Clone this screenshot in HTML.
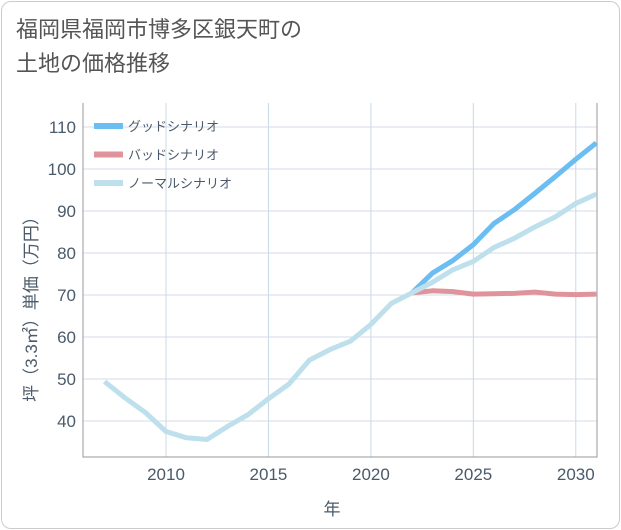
<!DOCTYPE html>
<html><head><meta charset="utf-8"><style>
body{margin:0;background:#fff;font-family:"Liberation Sans","Noto Sans CJK JP",sans-serif;}
#card{position:absolute;left:1px;top:1px;width:617px;height:526px;border:1px solid #ccc;border-radius:10px;background:#fff;}
#title{position:absolute;left:16px;top:13px;font-size:22px;line-height:34px;color:#555;font-family:"Liberation Sans","Noto Sans CJK JP",sans-serif;}
</style></head><body>
<div id="card"></div>
<div id="title">福岡県福岡市博多区銀天町の<br>土地の価格推移</div>
<svg id="chart" width="621" height="530" style="position:absolute;left:0;top:0"></svg>
<script>
const years=[2007,2008,2009,2010,2011,2012,2013,2014,2015,2016,2017,2018,2019,2020,2021,2022,2023,2024,2025,2026,2027,2028,2029,2030,2031];
const normal=[49.4,45.5,42,37.5,36,35.6,38.7,41.5,45.3,48.8,54.5,57,59,63,68,70.5,73,76,78,81.3,83.5,86.2,88.6,91.8,94];
const goodYears=[2022,2023,2024,2025,2026,2027,2028,2029,2030,2031];
const good=[70.5,75.2,78.2,82,87,90.3,94.2,98.2,102.3,106.2];
const bad=[70.5,71,70.8,70.2,70.3,70.4,70.7,70.2,70.1,70.2];
const yTicks=[40,50,60,70,80,90,100,110];
const xTicks=[2010,2015,2020,2025,2030];
const L=83,R=597,T=103,B=457;
const x=v=>166+(v-2010)*20.49;
const y=v=>421-(v-40)*4.2;
const svg=document.getElementById('chart');const NS='http://www.w3.org/2000/svg';
function mk(t,a){const e=document.createElementNS(NS,t);for(const k in a)e.setAttribute(k,a[k]);svg.appendChild(e);return e;}
const bg=mk('rect',{x:L,y:T,width:R-L,height:B-T,fill:'#fff',stroke:'none'});


yTicks.forEach(v=>{const g=mk('line',{x1:L,x2:R,y1:y(v),y2:y(v),stroke:'#d5dde8','stroke-width':1});


const t=mk('text',{x:76,y:y(v)+6,'text-anchor':'end','font-size':17,fill:'#4a5a6a'});t.textContent=v;

});
xTicks.forEach(v=>{const g=mk('line',{x1:x(v),x2:x(v),y1:T,y2:B,stroke:'#c8d8e8','stroke-width':1});


const t=mk('text',{x:x(v),y:480,'text-anchor':'middle','font-size':17,fill:'#4a5a6a'});t.textContent=v;

});
const ax=mk('path',{d:`M${L},${T}V${B}H${R}V${T}`,fill:'none',stroke:'#999','stroke-width':1});


function line(xs,vs,c,n){const p=mk('polyline',{points:xs.map((yr,i)=>x(yr)+','+y(vs[i])).join(' '),fill:'none',stroke:c,'stroke-width':5,'stroke-linejoin':'round'});

}
line(goodYears,bad,'#e0939a','bad-scenario-line');
line(goodYears,good,'#6bbdf2','good-scenario-line');
line(years,normal,'#bde0ec','normal-scenario-line');
const leg=[['グッドシナリオ','#6bbdf2'],['バッドシナリオ','#e0939a'],['ノーマルシナリオ','#bde0ec']];
leg.forEach((l,i)=>{const yy=126+i*28.5;const s=mk('line',{x1:94,x2:123,y1:yy,y2:yy,stroke:l[1],'stroke-width':6});


const t=mk('text',{x:128,y:yy+5,'font-size':13,fill:'#4a5a6a'});t.textContent=l[0];

});
const xt=mk('text',{x:332,y:515,'text-anchor':'middle','font-size':17,fill:'#4a5a6a'});xt.textContent='年';


const yt=mk('text',{x:0,y:0,'text-anchor':'middle','font-size':17,fill:'#4a5a6a',transform:'translate(37,305) rotate(-90)'});yt.textContent='坪（3.3㎡）単価（万円）';


</script>
</body></html>
